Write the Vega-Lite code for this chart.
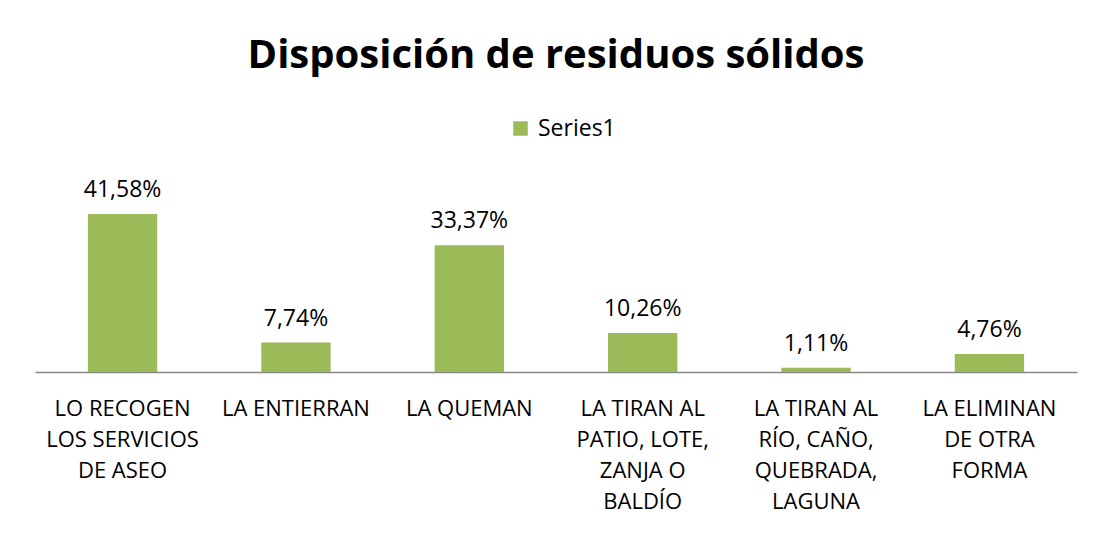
{
  "$schema": "https://vega.github.io/schema/vega-lite/v6.json",
  "width": 1042,
  "height": 190,
  "autosize": "none",
  "padding": {"left": 35, "top": 182, "right": 20, "bottom": 164},
  "background": "white",
  "config": {"view": {"stroke": null}, "font": "Open Sans"},
  "title": {
    "text": "Disposición de residuos sólidos",
    "fontSize": 40,
    "fontWeight": "bold",
    "font": "Open Sans",
    "color": "#000000",
    "anchor": "middle",
    "offset": 41
  },
  "data": {
    "values": [
      {"cat": "LO RECOGEN|LOS SERVICIOS|DE ASEO", "v": 41.58, "label": "41,58%"},
      {"cat": "LA ENTIERRAN", "v": 7.74, "label": "7,74%"},
      {"cat": "LA QUEMAN", "v": 33.37, "label": "33,37%"},
      {"cat": "LA TIRAN AL|PATIO, LOTE,|ZANJA O|BALDÍO", "v": 10.26, "label": "10,26%"},
      {"cat": "LA TIRAN AL|RÍO, CAÑO,|QUEBRADA,|LAGUNA", "v": 1.11, "label": "1,11%"},
      {"cat": "LA ELIMINAN|DE OTRA|FORMA", "v": 4.76, "label": "4,76%"}
    ]
  },
  "encoding": {
    "x": {
      "field": "cat",
      "type": "nominal",
      "sort": null,
      "scale": {"paddingInner": 0.6, "paddingOuter": 0.305},
      "axis": {
        "title": null,
        "labelExpr": "split(datum.label, '|')",
        "labelAngle": 0,
        "labelFontSize": 22,
        "labelLineHeight": 31,
        "labelPadding": 26,
        "labelColor": "#000000",
        "labelFont": "Open Sans",
        "labelBaseline": "top",
        "labelLimit": 400,
        "labelOverlap": false,
        "ticks": false,
        "domainColor": "#868686",
        "domainWidth": 1.5
      }
    },
    "y": {
      "field": "v",
      "type": "quantitative",
      "scale": {"domain": [0, 50]},
      "axis": null
    }
  },
  "layer": [
    {
      "mark": {"type": "bar"},
      "encoding": {
        "color": {
          "datum": "Series1",
          "scale": {"range": ["#9BBB59"]},
          "legend": {
            "orient": "none",
            "legendX": 474,
            "legendY": -65,
            "title": null,
            "symbolType": "square",
            "symbolSize": 210,
            "symbolStrokeWidth": 0,
            "labelFontSize": 23,
            "labelFont": "Open Sans",
            "labelColor": "#000000",
            "labelOffset": 6
          }
        }
      }
    },
    {
      "mark": {"type": "text", "fontSize": 23, "font": "Open Sans", "color": "#000000", "baseline": "alphabetic", "dy": -17},
      "encoding": {"text": {"field": "label"}}
    }
  ]
}
